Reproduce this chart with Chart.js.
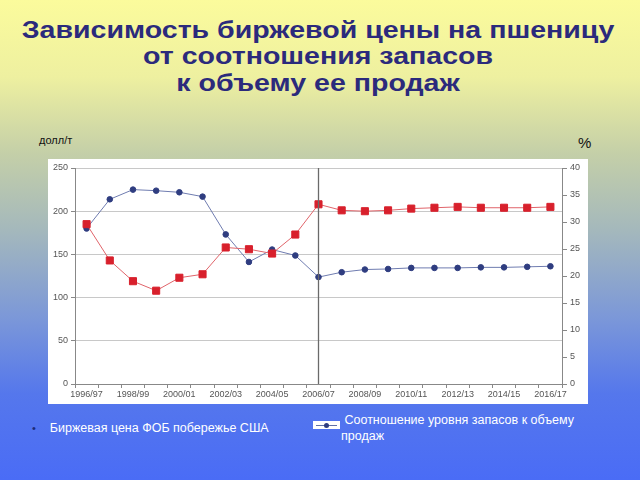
<!DOCTYPE html>
<html>
<head>
<meta charset="utf-8">
<script src="https://cdn.jsdelivr.net/npm/chart.js@4"></script>
<style>
  html, body { margin: 0; padding: 0; }
  body {
    width: 640px; height: 480px; overflow: hidden; position: relative;
    font-family: "Liberation Sans", Arial, sans-serif;
    background: linear-gradient(to bottom, #fbfb9c 0%, #eef0a0 16%, #c4cfa8 32%, #a4b8bc 48%, #7c98d8 66%, #5577ec 82%, #4a6cf6 100%);
  }
  .title {
    position: absolute; left: -2px; top: 16.5px; width: 640px; text-align: center;
    color: #2b2a7c; font-weight: bold; font-size: 24.5px; line-height: 26.7px;
    transform: scaleX(1.165); transform-origin: 50% 0;
  }
  .unit { position: absolute; color: #111; }
  .box { position: absolute; left: 48px; top: 159px; width: 540px; height: 245px; background: #fff; }
  .leg { position: absolute; color: #fff; font-size: 12.5px; line-height: 16px; }
  .icon { position: absolute; left: 313px; top: 421px; width: 27px; height: 8px; background: #fff; }
  .icon i { position: absolute; left: 3px; right: 3px; top: 3.5px; height: 1px; background: #6070a8; }
  .icon b { position: absolute; left: 11px; top: 1.5px; width: 5px; height: 5px; border-radius: 50%; background: #2f3d80; }
</style>
</head>
<body>
<div class="title">Зависимость биржевой цены на пшеницу<br>от соотношения запасов<br>к объему ее продаж</div>
<div class="unit" style="left:39px;top:134px;font-size:11px;">долл/т</div>
<div class="unit" style="left:578px;top:134px;font-size:15px;">%</div>
<div class="box"><canvas id="myChart" width="540" height="245"></canvas></div>
<div class="leg" style="left:32px;top:420px;"><span style="color:#1c2a7a;font-size:11px;">•</span>&nbsp;&nbsp;&nbsp;&nbsp;Биржевая цена ФОБ побережье США</div>
<div class="icon"><i></i><b></b></div>
<div class="leg" style="left:341px;top:412px;">&nbsp;Соотношение уровня запасов к объему<br>продаж</div>
<script>
const seasons = ["1996/97", "1997/98", "1998/99", "1999/00", "2000/01", "2001/02", "2002/03",
  "2003/04", "2004/05", "2005/06", "2006/07", "2007/08", "2008/09", "2009/10", "2010/11",
  "2011/12", "2012/13", "2013/14", "2014/15", "2015/16", "2016/17"];
const price = [185, 143, 119, 108, 123, 127, 158, 156, 151, 173, 208,
  201, 200, 201, 203, 204, 205, 204, 204, 204, 205];
const stocksRatio = [28.8, 34.2, 36.0, 35.8, 35.5, 34.7, 27.7, 22.6, 24.9, 23.8, 19.8,
  20.7, 21.2, 21.3, 21.5, 21.5, 21.5, 21.6, 21.6, 21.7, 21.8];
const markerIndex = 10;

const tickFont = { family: "Liberation Sans", size: 9 };

const dividerLine = {
  id: "dividerLine",
  afterDatasetsDraw(chart) {
    const ctx = chart.ctx;
    const x = chart.scales.x.getPixelForValue(markerIndex);
    ctx.save();
    ctx.strokeStyle = "#6a6a6a";
    ctx.lineWidth = 1.3;
    ctx.beginPath();
    ctx.moveTo(x, chart.chartArea.top);
    ctx.lineTo(x, chart.chartArea.bottom);
    ctx.stroke();
    ctx.restore();
  }
};

const myChart = new Chart(document.getElementById("myChart"), {
  type: "line",
  data: {
    labels: seasons,
    datasets: [
      {
        label: "Биржевая цена ФОБ побережье США",
        data: price,
        yAxisID: "y",
        borderColor: "#e0646a",
        borderWidth: 1,
        backgroundColor: "#d8202c",
        pointBackgroundColor: "#d8202c",
        pointBorderColor: "#d8202c",
        pointStyle: "rect",
        pointRadius: 5,
        tension: 0,
      },
      {
        label: "Соотношение уровня запасов к объему продаж",
        data: stocksRatio,
        yAxisID: "y1",
        borderColor: "#6f7cb0",
        borderWidth: 1,
        backgroundColor: "#2f3d80",
        pointBackgroundColor: "#2f3d80",
        pointBorderColor: "#2f3d80",
        pointStyle: "circle",
        pointRadius: 2.8,
        tension: 0,
      },
    ],
  },
  options: {
    responsive: false,
    animation: false,
    layout: { padding: { top: 9, bottom: 0, left: 0, right: 0 } },
    plugins: { legend: { display: false }, tooltip: { enabled: false } },
    scales: {
      x: {
        offset: true,
        grid: { offset: true, drawOnChartArea: false, drawTicks: true, tickLength: 4, color: "#888" },
        border: { color: "#888" },
        ticks: {
          autoSkip: false, maxRotation: 0, padding: 1, color: "#555", font: tickFont,
          callback: (v, i) => (i % 2 === 0 ? seasons[i] : ""),
        },
        afterFit: (s) => { s.height = 20; },
      },
      y: {
        position: "left",
        min: 0, max: 250,
        ticks: { stepSize: 50, color: "#555", font: tickFont, padding: 3 },
        grid: { color: "#c8c8c8", tickColor: "#888", tickLength: 4 },
        border: { color: "#888" },
        afterFit: (s) => { s.width = 27; },
      },
      y1: {
        position: "right",
        min: 0, max: 40,
        ticks: { stepSize: 5, color: "#555", font: tickFont, padding: 3 },
        grid: { drawOnChartArea: false, color: "#888", tickLength: 5 },
        border: { color: "#888" },
        afterFit: (s) => { s.width = 26; },
      },
    },
  },
  plugins: [dividerLine],
});
</script>
</body>
</html>
